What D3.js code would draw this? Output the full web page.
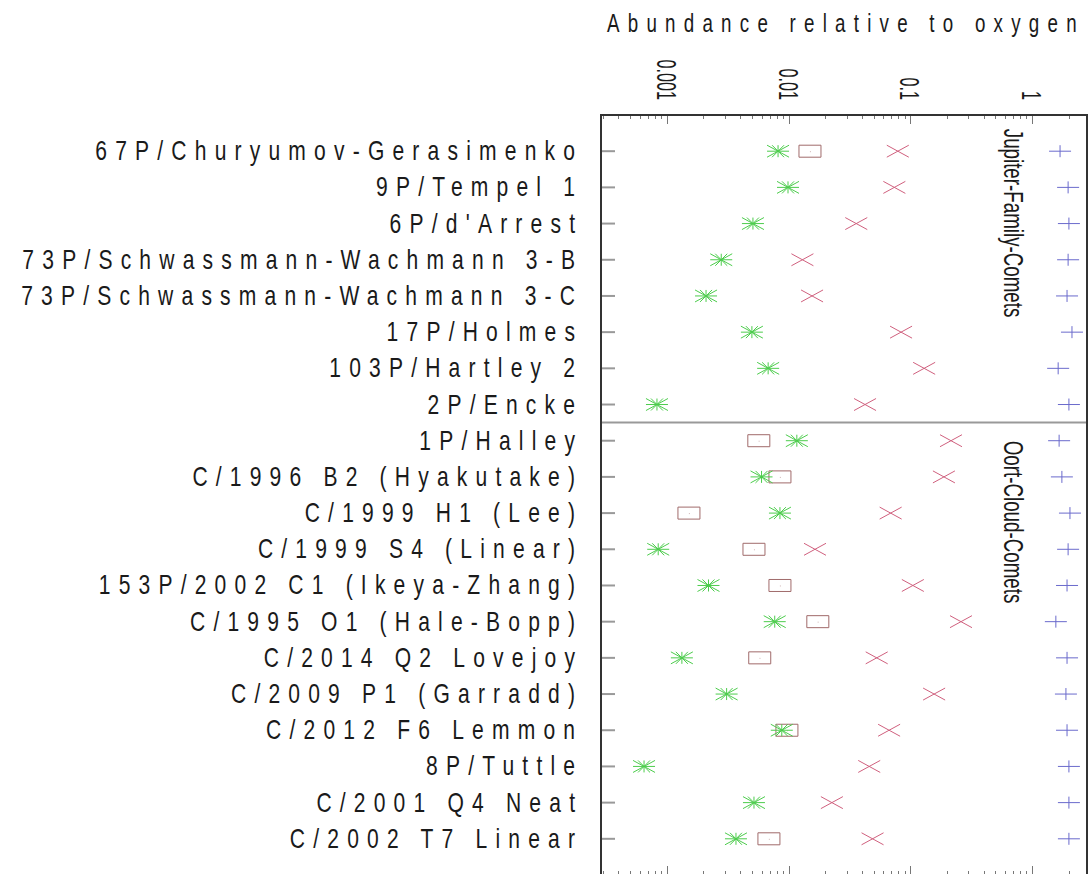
<!DOCTYPE html>
<html lang="en">
<head>
    <meta charset="UTF-8">
    <title>comet-abundances</title>
    <style>
        body {
            margin: 0;
            background: #fff;
        }
        text {
            font-family: "Liberation Sans", Arial, Helvetica, sans-serif;
            fill: #1a1a1a;
        }
    </style>
    <script src="https://d3js.org/d3.v7.min.js"></script>
</head>
<body>

<script>

    // comet names, top to bottom
    let comets = [
        "67P/Churyumov-Gerasimenko", "9P/Tempel 1", "6P/d'Arrest",
        "73P/Schwassmann-Wachmann 3-B", "73P/Schwassmann-Wachmann 3-C",
        "17P/Holmes", "103P/Hartley 2", "2P/Encke",
        "1P/Halley", "C/1996 B2 (Hyakutake)", "C/1999 H1 (Lee)",
        "C/1999 S4 (Linear)", "153P/2002 C1 (Ikeya-Zhang)", "C/1995 O1 (Hale-Bopp)",
        "C/2014 Q2 Lovejoy", "C/2009 P1 (Garradd)", "C/2012 F6 Lemmon",
        "8P/Tuttle", "C/2001 Q4 Neat", "C/2002 T7 Linear"
    ]

    // series (null = no point)
    let boxValues = [0.0150, null, null, null, null, null, null, null,
        0.0057, 0.0085, 0.00152, 0.0052, 0.0085, 0.0174, 0.0058, null, 0.0097, null, null, 0.0069]
    let starValues = [0.0082, 0.0099, 0.0051, 0.0028, 0.0021, 0.0050, 0.0068, 0.00083,
        0.0117, 0.0060, 0.0085, 0.00085, 0.0022, 0.0077, 0.00133, 0.0031, 0.0088, 0.00065, 0.0052, 0.0037]
    let crossValues = [0.079, 0.074, 0.036, 0.013, 0.0156, 0.084, 0.130, 0.0425,
        0.216, 0.189, 0.069, 0.0165, 0.105, 0.261, 0.053, 0.157, 0.067, 0.046, 0.0227, 0.049]
    let plusValues = [1.70, 1.98, 2.01, 1.98, 1.94, 2.13, 1.64, 2.01,
        1.67, 1.76, 2.05, 1.98, 1.94, 1.57, 1.94, 1.90, 1.94, 2.01, 2.01, 2.01]

    let tickValues = [0.001, 0.01, 0.1, 1]
    let tickLabels = ["0.001", "0.01", "0.1", "1"]
    let groups = [
        {name: "Jupiter-Family-Comets", at: 0.38},
        {name: "Oort-Cloud-Comets", at: 9}
    ]
    let splitAfter = 8

    let width = 1088;
    let height = 874;
    let plotLeft = 601, plotRight = 1087, plotTop = 115, plotBottom = 875;

    let svg = d3.select("body").append("svg")
        .attr("width", width)
        .attr("height", height);

    let x = d3.scaleLog()
        .domain([0.000288, 2.83])
        .range([plotLeft, plotRight]);

    let y = d3.scaleLinear()
        .domain([0, comets.length + 1])
        .range([plotTop, plotBottom]);

    // title (fonts in the original are squeezed horizontally)
    svg.append("text")
        .attr("transform", "translate(607,32) scale(0.75,1)")
        .style("font-size", "25px")
        .style("letter-spacing", "11px")
        .text("Abundance relative to oxygen");

    // top tick labels, rotated
    svg.selectAll(".xlab")
        .data(tickValues)
        .enter()
        .append("text")
        .attr("class", "xlab")
        .attr("transform", d => "translate(" + (x(d) - 10) + ",100) rotate(90) scale(0.6,1)")
        .attr("text-anchor", "end")
        .style("font-size", "27px")
        .text((d, i) => tickLabels[i]);

    // minor + major ticks top and bottom
    let allTicks = x.ticks().filter(d => d >= x.domain()[0] && d <= x.domain()[1]);
    let isMajor = d => tickValues.some(t => Math.abs(t - d) / t < 1e-6);

    let tickG = svg.append("g").attr("stroke", "#777").attr("stroke-width", 1);
    tickG.selectAll(".ttop")
        .data(allTicks)
        .enter()
        .append("line")
        .attr("x1", d => Math.round(x(d)) + 0.5)
        .attr("x2", d => Math.round(x(d)) + 0.5)
        .attr("y1", plotTop)
        .attr("y2", d => plotTop + (isMajor(d) ? 9 : 4));
    tickG.selectAll(".tbot")
        .data(allTicks)
        .enter()
        .append("line")
        .attr("x1", d => Math.round(x(d)) + 0.5)
        .attr("x2", d => Math.round(x(d)) + 0.5)
        .attr("y1", plotBottom)
        .attr("y2", d => plotBottom - (isMajor(d) ? 9 : 4));

    // row ticks on the left
    svg.append("g")
        .selectAll("line")
        .data(comets)
        .enter()
        .append("line")
        .attr("x1", plotLeft)
        .attr("x2", plotLeft + 14)
        .attr("y1", (d, i) => y(i + 1))
        .attr("y2", (d, i) => y(i + 1))
        .attr("stroke", "#999")
        .attr("stroke-width", 2);

    // comet names
    let nameSqueeze = 0.78, nameSpacing = 10.5;
    svg.append("g")
        .selectAll("text")
        .data(comets)
        .enter()
        .append("text")
        .attr("transform", (d, i) => "translate(" + (575 + nameSpacing * nameSqueeze) + "," + (y(i + 1) + 9) + ") scale(" + nameSqueeze + ",1)")
        .attr("text-anchor", "end")
        .style("font-size", "27px")
        .style("letter-spacing", nameSpacing + "px")
        .text(d => d);

    // divider between the two families
    svg.append("line")
        .attr("x1", plotLeft)
        .attr("x2", plotRight)
        .attr("y1", y(splitAfter + 0.5))
        .attr("y2", y(splitAfter + 0.5))
        .attr("stroke", "#999")
        .attr("stroke-width", 2);

    // family labels
    svg.selectAll(".grp")
        .data(groups)
        .enter()
        .append("text")
        .attr("class", "grp")
        .attr("transform", d => "translate(1004," + y(d.at) + ") rotate(90) scale(0.67,1)")
        .style("font-size", "28px")
        .text(d => d.name);

    // markers
    let hw = 11, hh = 6;
    let shapes = {
        box: "M" + (-hw) + "," + (-hh) + "h" + (2 * hw) + "v" + (2 * hh) + "h" + (-2 * hw) + "Z M0,0.5h0.5",
        star: "M" + (-hw) + ",0H" + hw + " M0," + (-hh) + "V" + hh +
            " M" + (-hw) + "," + (-hh) + "L" + hw + "," + hh +
            " M" + (-hw) + "," + hh + "L" + hw + "," + (-hh) +
            " M" + (-6) + "," + (-hh) + "L6," + hh +
            " M" + (-6) + "," + hh + "L6," + (-hh),
        cross: "M" + (-hw) + "," + (-hh) + "L" + hw + "," + hh +
            " M" + (-hw) + "," + hh + "L" + hw + "," + (-hh),
        plus: "M" + (-hw) + ",0H" + hw + " M0," + (-hh) + "V" + hh
    }

    let series = [
        {key: "box", values: boxValues, color: "#a06a6a"},
        {key: "star", values: starValues, color: "#4ccc4c"},
        {key: "cross", values: crossValues, color: "#d0607e"},
        {key: "plus", values: plusValues, color: "#6a6acc"}
    ]

    series.forEach(function (s) {
        svg.append("g")
            .selectAll("path")
            .data(s.values.map((v, i) => ({v: v, i: i})).filter(d => d.v !== null))
            .enter()
            .append("path")
            .attr("d", shapes[s.key])
            .attr("transform", d => "translate(" + x(d.v) + "," + y(d.i + 1) + ")")
            .attr("fill", "none")
            .attr("stroke", s.color)
            .attr("stroke-width", 1);
    })

    // plot frame
    svg.append("rect")
        .attr("x", plotLeft)
        .attr("y", plotTop)
        .attr("width", plotRight - plotLeft)
        .attr("height", plotBottom - plotTop)
        .attr("fill", "none")
        .attr("stroke", "#333")
        .attr("stroke-width", 2);

</script>

</body>
</html>
